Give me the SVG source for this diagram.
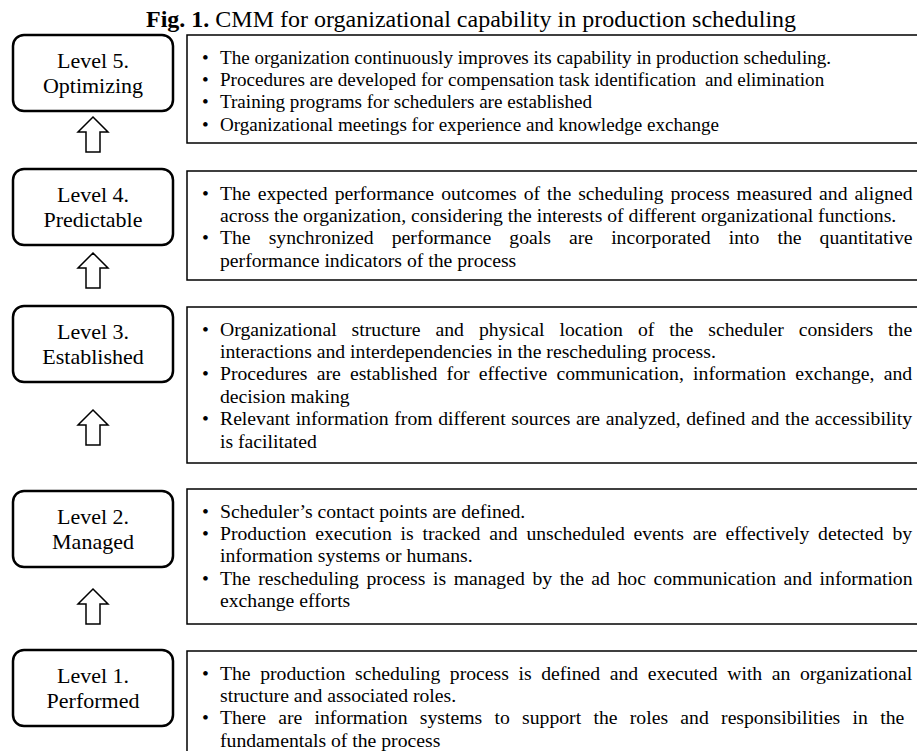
<svg xmlns="http://www.w3.org/2000/svg" xmlns:xlink="http://www.w3.org/1999/xlink" width="917" height="751" viewBox="0 0 917 751">
<style>
text{font-family:"Liberation Serif","Times New Roman",serif;fill:#000}
.title{font-size:24px}
.lbl{font-size:22px;text-anchor:middle}
.body{font-size:19.7px}
.body5{font-size:19.1px}
.lbox{fill:#fff;stroke:#000;stroke-width:2.5}
.dbox{fill:#fff;stroke:#000;stroke-width:1.5}
.arr{fill:#fff;stroke:#000;stroke-width:1.5;stroke-linejoin:miter}
</style>
<defs>
<path id="up" d="M93,0 L108,15 L100,15 L100,35 L86,35 L86,15 L78,15 Z"/>
</defs>
<rect width="917" height="751" fill="#fff"/>
<text class="title" x="146" y="27"><tspan font-weight="bold">Fig. 1.</tspan> CMM for organizational capability in production scheduling</text>

<g id="connectors">
<use xlink:href="#up" class="arr" transform="translate(0,117)"/>
<use xlink:href="#up" class="arr" transform="translate(0,253)"/>
<use xlink:href="#up" class="arr" transform="translate(0,410)"/>
<use xlink:href="#up" class="arr" transform="translate(0,589)"/>
</g>

<g id="level5">
<rect class="lbox" x="13" y="35" width="160" height="76" rx="11"/>
<text class="lbl" x="93" y="68">Level 5.</text>
<text class="lbl" x="93" y="93">Optimizing</text>
</g>
<g id="desc5">
<rect class="dbox" x="187" y="35" width="745" height="108"/>
<text class="body5" x="202" y="63.5">•</text><text class="body5" x="220" y="63.5">The organization continuously improves its capability in production scheduling.</text>
<text class="body5" x="202" y="85.9">•</text><text class="body5" x="220" y="85.9">Procedures are developed for compensation task identification <tspan dx="4">and elimination</tspan></text>
<text class="body5" x="202" y="108.3">•</text><text class="body5" x="220" y="108.3">Training programs for schedulers are established</text>
<text class="body5" x="202" y="130.7">•</text><text class="body5" x="220" y="130.7">Organizational meetings for experience and knowledge exchange</text>
</g>

<g id="level4">
<rect class="lbox" x="13" y="169" width="160" height="76" rx="11"/>
<text class="lbl" x="93" y="202">Level 4.</text>
<text class="lbl" x="93" y="227">Predictable</text>
</g>
<g id="desc4">
<rect class="dbox" x="187" y="171" width="745" height="109"/>
<text class="body" x="202" y="199.5">•</text><text class="body" x="220" y="199.5" word-spacing="2.12">The expected performance outcomes of the scheduling process measured and aligned</text>
<text class="body" x="220" y="221.9">across the organization, considering the interests of different organizational functions.</text>
<text class="body" x="202" y="244.3">•</text><text class="body" x="220" y="244.3" word-spacing="13.18">The synchronized performance goals are incorporated into the quantitative</text>
<text class="body" x="220" y="266.7">performance indicators of the process</text>
</g>

<g id="level3">
<rect class="lbox" x="13" y="306" width="160" height="76" rx="11"/>
<text class="lbl" x="93" y="339">Level 3.</text>
<text class="lbl" x="93" y="364">Established</text>
</g>
<g id="desc3">
<rect class="dbox" x="187" y="307" width="745" height="156"/>
<text class="body" x="202" y="335.5">•</text><text class="body" x="220" y="335.5" word-spacing="10.07">Organizational structure and physical location of the scheduler considers the</text>
<text class="body" x="220" y="357.9">interactions and interdependencies in the rescheduling process.</text>
<text class="body" x="202" y="380.3">•</text><text class="body" x="220" y="380.3" word-spacing="4.29">Procedures are established for effective communication, information exchange, and</text>
<text class="body" x="220" y="402.7">decision making</text>
<text class="body" x="202" y="425.1">•</text><text class="body" x="220" y="425.1" word-spacing="0.75">Relevant information from different sources are analyzed, defined and the accessibility</text>
<text class="body" x="220" y="447.5">is facilitated</text>
</g>

<g id="level2">
<rect class="lbox" x="13" y="491" width="160" height="76" rx="11"/>
<text class="lbl" x="93" y="524">Level 2.</text>
<text class="lbl" x="93" y="549">Managed</text>
</g>
<g id="desc2">
<rect class="dbox" x="187" y="489" width="745" height="135"/>
<text class="body" x="202" y="517.5">•</text><text class="body" x="220" y="517.5">Scheduler’s contact points are defined.</text>
<text class="body" x="202" y="539.9">•</text><text class="body" x="220" y="539.9" word-spacing="3.87">Production execution is tracked and unscheduled events are effectively detected by</text>
<text class="body" x="220" y="562.3">information systems or humans.</text>
<text class="body" x="202" y="584.7">•</text><text class="body" x="220" y="584.7" word-spacing="2.67">The rescheduling process is managed by the ad hoc communication and information</text>
<text class="body" x="220" y="607.1">exchange efforts</text>
</g>

<g id="level1">
<rect class="lbox" x="13" y="650" width="160" height="76" rx="11"/>
<text class="lbl" x="93" y="683">Level 1.</text>
<text class="lbl" x="93" y="708">Performed</text>
</g>
<g id="desc1">
<rect class="dbox" x="187" y="651" width="745" height="115"/>
<text class="body" x="202" y="679.5">•</text><text class="body" x="220" y="679.5" word-spacing="4.63">The production scheduling process is defined and executed with an organizational</text>
<text class="body" x="220" y="701.9">structure and associated roles.</text>
<text class="body" x="202" y="724.3">•</text><text class="body" x="220" y="724.3" word-spacing="7.38">There are information systems to support the roles and responsibilities in the</text>
<text class="body" x="220" y="746.7">fundamentals of the process</text>
</g>
</svg>
